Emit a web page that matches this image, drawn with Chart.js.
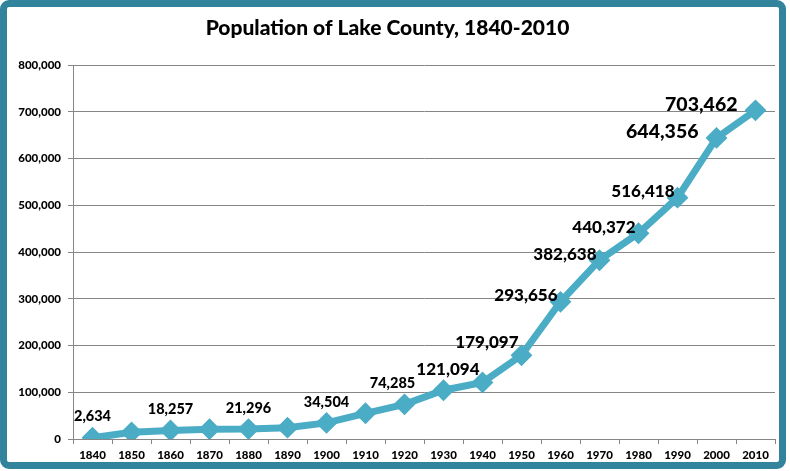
<!DOCTYPE html>
<html>
<head>
<meta charset="utf-8">
<script src="https://cdn.jsdelivr.net/npm/chart.js@4/dist/chart.umd.min.js"></script>
<style>
  html, body { margin: 0; padding: 0; background: #ffffff; }
  #wrap { position: relative; width: 790px; height: 471px; }
  #chart { position: absolute; left: 0; top: 0; }
  #frame {
    position: absolute; left: 0; top: 0;
    width: 772px; height: 455px;
    border: 7px solid #31849B; border-radius: 9px;
    pointer-events: none;
  }
</style>
</head>
<body>
<div id="wrap">
  <canvas id="chart" width="790" height="471"></canvas>
  <div id="frame"></div>
</div>
<script>
const years = ["1840", "1850", "1860", "1870", "1880", "1890", "1900", "1910", "1920",
               "1930", "1940", "1950", "1960", "1970", "1980", "1990", "2000", "2010"];
const population = [2634, 14226, 18257, 21014, 21296, 24235, 34504, 55058, 74285,
                    104387, 121094, 179097, 293656, 382638, 440372, 516418, 644356, 703462];
const labelledYears = ["1840", "1860", "1880", "1900", "1920", "1940", "1950",
                       "1960", "1970", "1980", "1990", "2000", "2010"];
const yTicks = [0, 100000, 200000, 300000, 400000, 500000, 600000, 700000, 800000];

const lineColor = "#4BACC6";
const gridColor = "#868686";
const fontFamily = "Lato, 'Open Sans', sans-serif";

const fmt = v => v.toLocaleString("en-US");

// value labels drawn next to the points, Excel style
const valueLabels = {
    id: "valueLabels",
    afterDatasetsDraw(chart) {
        const ctx = chart.ctx;
        const meta = chart.getDatasetMeta(0);
        ctx.save();
        ctx.fillStyle = "#000000";
        meta.data.forEach((pt, i) => {
            if (!labelledYears.includes(years[i])) return;
            const v = population[i];
            let size = v < 100000 ? 14.5 : (v < 600000 ? 17 : 19.5);
            ctx.font = "900 " + size + "px " + fontFamily;
            ctx.textBaseline = "middle";
            if (v < 100000) {
                ctx.textAlign = "center";
                ctx.fillText(fmt(v), pt.x - (v > 60000 ? 12 : 0), pt.y - 21);
            } else {
                ctx.textAlign = "right";
                ctx.fillText(fmt(v), pt.x - (v > 600000 ? 18 : 3), pt.y - (v < 200000 ? 13 : 6));
            }
        });
        ctx.restore();
    }
};

const chartobj = new Chart(document.getElementById("chart"), {
    type: "line",
    data: {
        labels: years,
        datasets: [{
            data: population,
            borderColor: lineColor,
            backgroundColor: lineColor,
            borderWidth: 7,
            tension: 0,
            pointStyle: "rectRot",
            pointRadius: 9.5,
            pointBorderWidth: 2,
            pointBackgroundColor: lineColor,
            pointBorderColor: lineColor
        }]
    },
    options: {
        responsive: false,
        animation: false,
        devicePixelRatio: 1,
        layout: { padding: { left: 0, right: 15, top: 16, bottom: 0 } },
        plugins: {
            legend: { display: false },
            tooltip: { enabled: false },
            title: {
                display: true,
                text: "Population of Lake County, 1840-2010",
                color: "#000000",
                font: { family: fontFamily, size: 21, weight: "900" },
                padding: { top: 0, bottom: 24 }
            }
        },
        scales: {
            x: {
                offset: true,
                grid: {
                    offset: true,
                    drawOnChartArea: false,
                    drawTicks: true,
                    tickLength: 5,
                    color: gridColor
                },
                border: { color: gridColor },
                ticks: {
                    color: "#000000",
                    padding: 4,
                    maxRotation: 0,
                    font: { family: fontFamily, size: 11.5, weight: "900" }
                },
                afterFit: s => { s.height = 32; }
            },
            y: {
                min: 0,
                max: 800000,
                afterBuildTicks: s => { s.ticks = yTicks.map(v => ({ value: v })); },
                grid: { color: gridColor, tickLength: 5 },
                border: { color: gridColor },
                ticks: {
                    color: "#000000",
                    padding: 7,
                    callback: v => fmt(v),
                    font: { family: fontFamily, size: 11.5, weight: "900" }
                },
                afterFit: s => { s.width = 73; }
            }
        }
    },
    plugins: [valueLabels]
});
</script>
</body>
</html>
